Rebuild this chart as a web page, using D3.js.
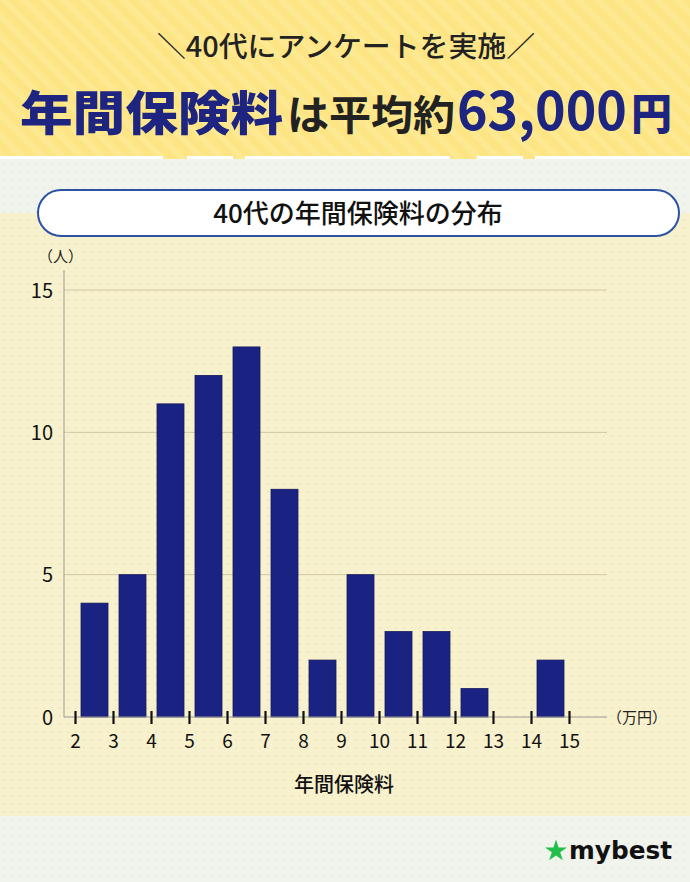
<!DOCTYPE html>
<html><head><meta charset="utf-8">
<script src="https://cdn.jsdelivr.net/npm/d3@7"></script>
<style>html,body{margin:0;padding:0;background:#fff}svg{display:block}</style>
</head><body>
<script>
const categories = [2,3,4,5,6,7,8,9,10,11,12,13,14];
const counts = [4,5,11,12,13,8,2,5,3,3,1,0,2];
const xTicks = [2,3,4,5,6,7,8,9,10,11,12,13,14,15];
const yTicks = [0,5,10,15];
const headerSub = "＼40代にアンケートを実施／";
const chartTitle = "40代の年間保険料の分布";
const yUnit = "（人）";
const xUnit = "（万円）";
const xTitle = "年間保険料";

const W=690,H=882;
const svg=d3.select("body").append("svg").attr("width",W).attr("height",H);
const defs=svg.append("defs");
const stripe=defs.append("pattern").attr("id","stripe").attr("patternUnits","userSpaceOnUse")
 .attr("width",14).attr("height",14).attr("patternTransform","rotate(-45)");
stripe.append("rect").attr("width",14).attr("height",14).attr("fill","#fde585");
stripe.append("rect").attr("width",6).attr("height",14).attr("fill","#fde992");
const dots=(id,bg,dc)=>{const p=defs.append("pattern").attr("id",id).attr("patternUnits","userSpaceOnUse").attr("width",8).attr("height",8);
 p.append("rect").attr("width",8).attr("height",8).attr("fill",bg);
 p.append("circle").attr("cx",4).attr("cy",4).attr("r",0.9).attr("fill",dc);};
dots("dotG","#f0f4ec","#e4e9de");
dots("dotC","#f8f1cd","#ede4bb");

const F="'Noto Sans CJK JP','Noto Sans',sans-serif";
svg.append("rect").attr("x",0).attr("y",0).attr("width",W).attr("height",H).attr("fill","url(#dotG)");
svg.append("rect").attr("x",0).attr("y",213).attr("width",W).attr("height",603).attr("fill","url(#dotC)");
svg.append("rect").attr("x",0).attr("y",0).attr("width",W).attr("height",159).attr("fill","url(#stripe)");
[[0,163],[187,233],[245,450],[477,523],[535,690]].forEach(s=>svg.append("rect").attr("x",s[0]).attr("y",156).attr("width",s[1]-s[0]).attr("height",3).attr("fill","#ffffff"));

svg.append("text").attr("x",346).attr("y",57).attr("text-anchor","middle").attr("font-family",F)
 .attr("font-size",28).attr("font-weight",500).attr("fill","#222").attr("textLength",378).attr("lengthAdjust","spacingAndGlyphs").text(headerSub);
const segs=[{t:"年間保険料",x:20,w:263,fs:47,c:"#1d2580",fw:900},
 {t:"は平均約",x:287,w:168,fs:41,c:"#222",fw:700},
 {t:"63,000",x:457,w:170,fs:54,c:"#1d2580",fw:700},
 {t:"円",x:631,w:41,fs:43,c:"#1d2580",fw:900}];
segs.forEach(s=>svg.append("text").attr("x",s.x).attr("y",130).attr("font-family",F).attr("font-size",s.fs)
 .attr("font-weight",s.fw).attr("fill",s.c).attr("textLength",s.w).attr("lengthAdjust","spacingAndGlyphs").text(s.t));

svg.append("rect").attr("x",38).attr("y",190).attr("width",641).attr("height",46).attr("rx",23)
 .attr("fill","#fff").attr("stroke","#2b52a3").attr("stroke-width",2);
svg.append("text").attr("x",358).attr("y",223).attr("text-anchor","middle").attr("font-family",F)
 .attr("font-size",26).attr("font-weight",500).attr("fill","#111").text(chartTitle);

const x=d3.scaleLinear().domain([2,15]).range([75,569]);
const y=d3.scaleLinear().domain([0,15]).range([717,290]);
const bw=27, off=6;
const g=svg.append("g");
g.selectAll("line.grid").data(yTicks.filter(d=>d>0)).join("line").attr("x1",64).attr("x2",607)
 .attr("y1",d=>y(d)).attr("y2",d=>y(d)).attr("stroke","#cfc8a8").attr("stroke-width",1);
g.append("line").attr("x1",64).attr("x2",64).attr("y1",270).attr("y2",717).attr("stroke","#9a9a9a").attr("stroke-width",1);
g.selectAll("rect.bar").data(categories.map((c,i)=>({c,v:counts[i]})).filter(d=>d.v>0)).join("rect")
 .attr("x",d=>x(d.c)+off).attr("width",bw).attr("y",d=>y(d.v)).attr("height",d=>y(0)-y(d.v))
 .attr("fill","#1b2382").attr("stroke","#141a60").attr("stroke-width",0.8);
g.append("line").attr("x1",64).attr("x2",607).attr("y1",717).attr("y2",717).attr("stroke","#9a9a9a").attr("stroke-width",1.2);
const xa=g.append("g").attr("transform","translate(0,717)").call(d3.axisBottom(x).tickValues(xTicks).tickSize(0).tickPadding(0).tickFormat(d3.format("d")));
xa.select(".domain").remove();
xa.selectAll(".tick line").attr("y1",-6).attr("y2",7).attr("stroke","#111").attr("stroke-width",2.2);
xa.selectAll(".tick text").attr("y",31).attr("dy",0).attr("font-family",F).attr("font-size",19).attr("fill","#111");
const ya=g.append("g").attr("transform","translate(53,0)").call(d3.axisLeft(y).tickValues(yTicks).tickSize(0).tickPadding(0));
ya.select(".domain").remove();
ya.selectAll(".tick text").attr("font-family",F).attr("font-size",20).attr("fill","#111").attr("dy","0.36em");
svg.append("text").attr("x",38).attr("y",262).attr("font-family",F).attr("font-size",15).attr("fill","#222").text(yUnit);
svg.append("text").attr("x",607).attr("y",723).attr("font-family",F).attr("font-size",15).attr("fill","#222").text(xUnit);
svg.append("text").attr("x",344).attr("y",792).attr("text-anchor","middle").attr("font-family",F).attr("font-size",20).attr("font-weight",500).attr("fill","#111").text(xTitle);

const star=d3.symbol().type(d3.symbolStar).size(150);
svg.append("path").attr("d",star()).attr("transform","translate(556,851)").attr("fill","#1fbf4a");
svg.append("text").attr("x",569).attr("y",859).attr("font-family","'DejaVu Sans',sans-serif").attr("font-weight",700)
 .attr("font-size",25).attr("fill","#111").attr("textLength",103).attr("lengthAdjust","spacingAndGlyphs").text("mybest");
</script>
</body></html>
